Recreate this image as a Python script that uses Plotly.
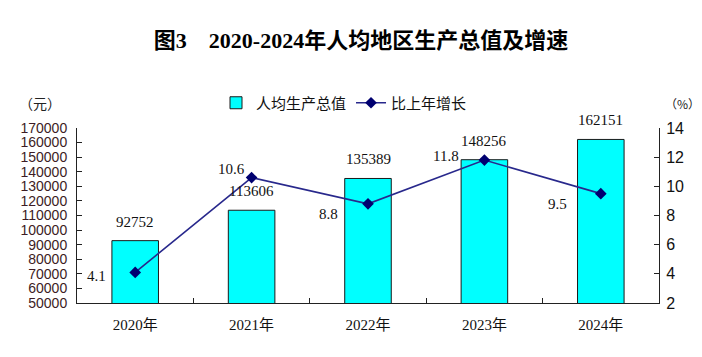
import plotly.graph_objects as go

years = ["2020年", "2021年", "2022年", "2023年", "2024年"]
gdp_per_capita = [92752, 113606, 135389, 148256, 162151]
growth = [4.1, 10.6, 8.8, 11.8, 9.5]
gdp_labels = ["92752", "113606", "135389", "148256", "162151"]
growth_labels = ["4.1", "10.6", "8.8", "11.8", "9.5"]
left_ticks = list(range(50000, 170001, 10000))
right_ticks = list(range(2, 15, 2))

SERIF = "Liberation Serif, Times New Roman, Noto Sans CJK SC"
SANS = "Liberation Sans, Arial, Noto Sans CJK SC"
CJK = "Noto Sans CJK SC"

L, R, T, B = 77, 43, 128, 54
W, H = 702, 357
pw, ph = W - L - R, H - T - B

fig = go.Figure()
fig.add_trace(go.Bar(
    x=years, y=gdp_per_capita, name="人均生产总值",
    marker=dict(color="#00FFFF", line=dict(color="#1a1a1a", width=1)),
    width=0.4, yaxis="y",
))
fig.add_trace(go.Scatter(
    x=years, y=growth, name="比上年增长", yaxis="y2",
    mode="lines+markers",
    line=dict(color="#28288c", width=1.6),
    marker=dict(symbol="diamond", size=9, color="#000070"),
))

annotations = []
for x, v, t in zip(years, gdp_per_capita, gdp_labels):
    annotations.append(dict(x=x, y=v, xref="x", yref="y", text=t, showarrow=False,
                            yshift=19, font=dict(family=SERIF, size=15, color="#111")))
growth_shift = [(-39, -4), (-20, 9), (-40, -10), (-38, 4), (-43, -10)]
for (x, v, t), (dx, dy) in zip(zip(years, growth, growth_labels), growth_shift):
    annotations.append(dict(x=x, y=v, xref="x", yref="y2", text=t, showarrow=False,
                            xshift=dx, yshift=dy, font=dict(family=SERIF, size=15, color="#111")))


def px_to_paper(px, py):
    return (px - L) / pw, (H - B - py) / ph


ux, uy = px_to_paper(40, 103)
annotations.append(dict(x=ux, y=uy, xref="paper", yref="paper", text="（元）", showarrow=False,
                        xanchor="center", yanchor="middle",
                        font=dict(family=CJK, size=14, color="#222")))
px_, py_ = px_to_paper(682, 103)
annotations.append(dict(x=px_, y=py_, xref="paper", yref="paper", text="（%）", showarrow=False,
                        xanchor="center", yanchor="middle",
                        font=dict(family=CJK, size=12, color="#222")))

lx, ly = px_to_paper(216, 103)

fig.update_layout(
    width=W, height=H,
    margin=dict(l=L, r=R, t=T, b=B, autoexpand=False),
    paper_bgcolor="white", plot_bgcolor="white",
    title=dict(text="<b>图3    2020-2024年人均地区生产总值及增速</b>",
               x=361 / W, xref="container", xanchor="center", y=1 - 40 / H, yanchor="middle",
               font=dict(family=SERIF, size=22, color="#000")),
    showlegend=True,
    legend=dict(orientation="h", x=lx, xanchor="left",
                y=ly, yanchor="middle",
                font=dict(family=CJK, size=15, color="#111"),
                bgcolor="rgba(0,0,0,0)", itemwidth=30, tracegroupgap=0),
    xaxis=dict(showline=True, linecolor="#222", linewidth=1, ticks="inside",
               tickson="boundaries", ticklen=5, tickcolor="#222", showgrid=False,
               tickfont=dict(family=SERIF, size=15, color="#111"),
               ticklabelstandoff=8, range=[-0.5, 4.5], automargin=False),
    yaxis=dict(range=[50000, 170000], tickvals=left_ticks,
               ticktext=[str(v) for v in left_ticks],
               showline=True, linecolor="#222", linewidth=1, ticks="inside",
               ticklen=5, tickcolor="#222", showgrid=False, zeroline=False,
               tickfont=dict(family=SANS, size=14, color="#3d1c24"),
               ticklabelstandoff=6, automargin=False),
    yaxis2=dict(range=[2, 14], tickvals=right_ticks, overlaying="y", side="right",
                showline=True, linecolor="#222", linewidth=1, ticks="inside",
                ticklen=5, tickcolor="#222", showgrid=False, zeroline=False,
                tickfont=dict(family=SANS, size=16, color="#111"),
                ticklabelstandoff=3, automargin=False),
    annotations=annotations,
    bargap=0.6,
)

fig.write_html("out.html", config={"displayModeBar": False},
               post_script="document.body.style.margin='0';")
